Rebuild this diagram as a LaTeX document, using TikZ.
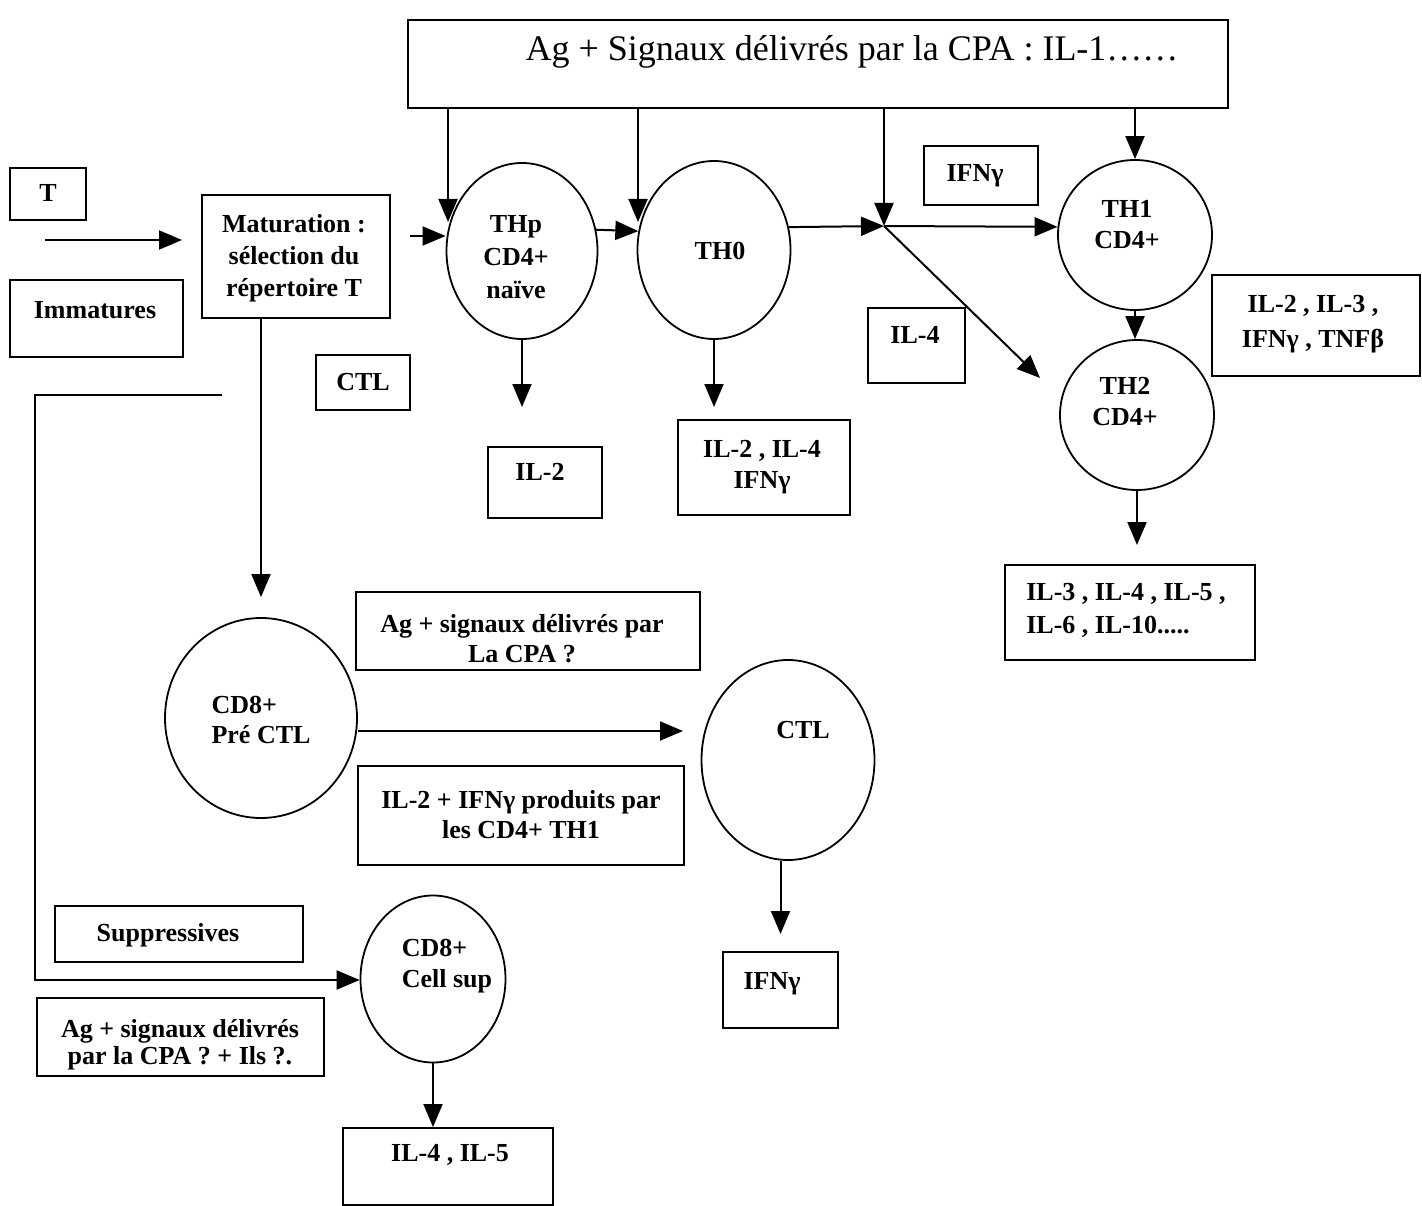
\documentclass[tikz,border=0pt]{standalone}
\usepackage{fontspec}
\setmainfont{Liberation Serif}
\usetikzlibrary{shapes.geometric,arrows.meta}
\begin{document}
\begin{tikzpicture}[x=1pt,y=-1pt,
  box/.style={draw,line width=2pt,rectangle,inner sep=0pt},
  cell/.style={draw,line width=1.8pt,ellipse,inner sep=0pt},
  txt/.style={font=\bfseries\fontsize{26}{31}\selectfont,align=center,inner sep=0pt},
  arr/.style={line width=2pt,-{Triangle[length=23pt,width=19pt]}},
  ln/.style={line width=2pt}]
\useasboundingbox[fill=white] (0,0) rectangle (1422,1206);

% ---------- boxes ----------
\node[box,minimum width=820pt,minimum height=88pt] (top) at (818,64) {};
\node[inner sep=0pt,font=\fontsize{36}{40}\selectfont] (toptxt) at (852,52) {Ag + Signaux délivrés par la CPA : IL-1……};

\node[box,minimum width=76pt,minimum height=52pt] (tbox) at (48,194) {};
\node[txt] (tt) at (48,193) {T};

\node[box,minimum width=173pt,minimum height=77pt] (imm) at (96.5,318.5) {};
\node[txt] (immt) at (95,310) {Immatures};

\node[box,minimum width=188pt,minimum height=123pt] (mat) at (296,256.5) {};
\node[txt,font=\bfseries\fontsize{26}{32}\selectfont] (matt) at (294,258) {Maturation :\\sélection du\\répertoire T};

\node[box,minimum width=114pt,minimum height=59pt] (ifng1) at (981,175.5) {};
\node[txt] (ifng1t) at (975,176) {IFNγ};

\node[box,minimum width=97pt,minimum height=75pt] (il4) at (916.5,345.5) {};
\node[txt] (il4t) at (915,335) {IL-4};

\node[box,minimum width=208pt,minimum height=101pt] (th1c) at (1316,325.5) {};
\node[txt,font=\bfseries\fontsize{26}{35}\selectfont] (th1ct) at (1313,324) {IL-2 , IL-3 ,\\IFNγ , TNFβ};

\node[box,minimum width=250pt,minimum height=95pt] (th2c) at (1130,612.5) {};
\node[txt,align=left,font=\bfseries\fontsize{26}{33}\selectfont] (th2ct) at (1126,610) {IL-3 , IL-4 , IL-5 ,\\IL-6 , IL-10.....};

\node[box,minimum width=114pt,minimum height=71pt] (il2) at (545,482.5) {};
\node[txt] (il2t) at (540,472) {IL-2};

\node[box,minimum width=172pt,minimum height=95pt] (th0c) at (764,467.5) {};
\node[txt] (th0ct) at (762,467) {IL-2 , IL-4\\IFNγ};

\node[box,minimum width=94pt,minimum height=55pt] (ctlb) at (363,382.5) {};
\node[txt] (ctlbt) at (363,382) {CTL};

\node[box,minimum width=344pt,minimum height=78pt] (agcpa) at (528,631) {};
\node[txt,font=\bfseries\fontsize{26}{30}\selectfont] (agcpat) at (522,639) {Ag + signaux délivrés par\\La CPA ?};

\node[box,minimum width=326pt,minimum height=99pt] (il2ifn) at (521,815.5) {};
\node[txt,font=\bfseries\fontsize{26}{30}\selectfont] (il2ifnt) at (521,815) {IL-2 + IFNγ produits par\\les CD4+ TH1};

\node[box,minimum width=115pt,minimum height=76pt] (ifng2) at (780.5,990) {};
\node[txt] (ifng2t) at (772,984) {IFNγ};

\node[box,minimum width=248pt,minimum height=56pt] (supp) at (179,934) {};
\node[txt] (suppt) at (168,935) {Suppressives};

\node[box,minimum width=287pt,minimum height=78pt] (agils) at (180.5,1037) {};
\node[txt,font=\bfseries\fontsize{26}{27}\selectfont] (agilst) at (180,1045) {Ag + signaux délivrés\\par la CPA ? + Ils ?.};

\node[box,minimum width=210pt,minimum height=77pt] (il45) at (448,1166.5) {};
\node[txt] (il45t) at (450,1155) {IL-4 , IL-5};

% ---------- cells ----------
\node[cell,minimum width=151pt,minimum height=176pt] (thp) at (522,251) {};
\node[txt,font=\bfseries\fontsize{26}{33}\selectfont] (thpt) at (516,257) {THp\\CD4+\\naïve};

\node[cell,minimum width=153pt,minimum height=178pt] (th0) at (714,250) {};
\node[txt] (th0t) at (720,251) {TH0};

\node[cell,minimum width=154pt,minimum height=150pt] (th1) at (1135,235) {};
\node[txt] (th1t) at (1127,225) {TH1\\CD4+};

\node[cell,minimum width=154pt,minimum height=150pt] (th2) at (1137,415) {};
\node[txt] (th2t) at (1125,402) {TH2\\CD4+};

\node[cell,minimum width=192pt,minimum height=200pt] (pre) at (261,718) {};
\node[txt,align=left,font=\bfseries\fontsize{26}{30}\selectfont] (pret) at (261,720) {CD8+\\Pré CTL};

\node[cell,minimum width=173pt,minimum height=200pt] (ctl) at (788,760) {};
\node[txt] (ctlt) at (803,730) {CTL};

\node[cell,minimum width=145pt,minimum height=167pt] (sup) at (433,979) {};
\node[txt,align=left] (supt) at (447,966) {CD8+\\Cell sup};

% ---------- coordinates ----------
\coordinate (a1s) at (45,240);
\coordinate (a1e) at (182,240);
\coordinate (m1) at (410,236);
\coordinate (t1) at (448,222);
\coordinate (t2) at (638,222);
\coordinate (j) at (884,226);
\coordinate (t3) at (1040,378);
\coordinate (b1) at (222,395);
\coordinate (b2) at (35,980);
\coordinate (t4) at (683,731);

% ---------- connectors ----------
\draw[arr] (a1s) -- (a1e);
\draw[arr] (m1) -- (m1 -| thp.west);
\draw[arr] (top.south -| t1) -- (t1);
\draw[arr] (top.south -| t2) -- (t2);
\draw[arr] (top.south -| j) -- (j);
\draw[arr] (top.south -| th1.north) -- (th1.north);
\draw[arr] (thp.16) -- (th0.166);
\draw[arr] (th0.17) -- (j);
\draw[arr] (j) -- (th1.174);
\draw[arr] (j) -- (t3);
\draw[arr] (th1.south) -- (th2.north -| th1.south);
\draw[arr,shorten >=19pt] (th2.south) -- (th2.south |- th2c.north);
\draw[arr,shorten >=39pt] (thp.south) -- (thp.south |- il2.north);
\draw[arr,shorten >=12pt] (th0.south) -- (th0.south |- th0c.north);
\draw[arr,shorten >=20pt] (pre.north |- mat.south) -- (pre.north);
\draw[arr] (b1) -| (b2) -- (b2 -| sup.west);
\draw[arr] (t4 -| pre.east) -- (t4);
\draw[arr,shorten >=17pt] (ifng2.north |- ctl.south) -- (ifng2.north);
\draw[arr] (sup.south) -- (sup.south |- il45.north);
\end{tikzpicture}
\end{document}
